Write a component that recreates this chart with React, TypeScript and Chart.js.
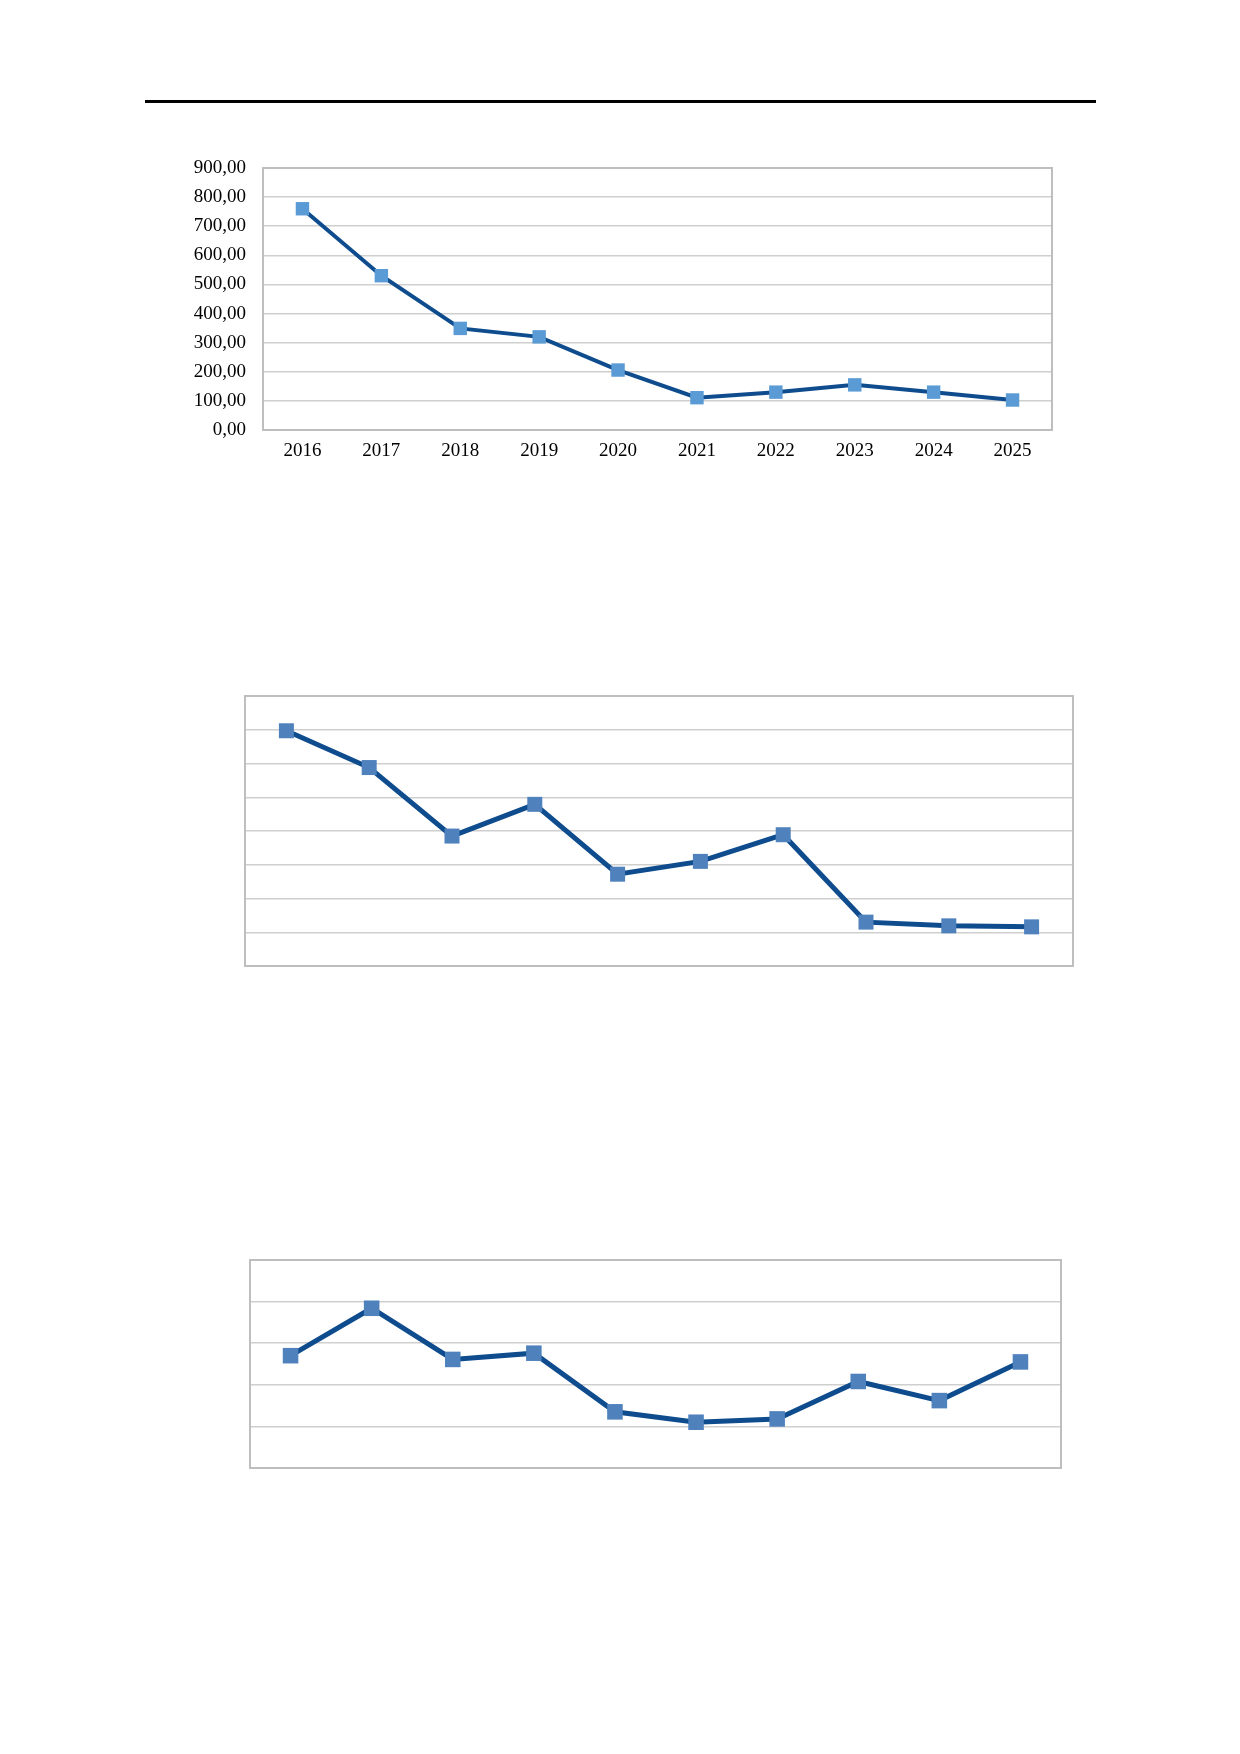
import React, { useEffect, useRef } from 'react';
import { Chart, registerables } from 'chart.js';

Chart.register(...registerables);

const years = ['2016', '2017', '2018', '2019', '2020', '2021', '2022', '2023', '2024', '2025'];

// top chart, read against the 0..900 axis
const firstValues = [760, 530, 349, 320, 206, 111, 130, 155, 130, 103];
// middle and bottom charts have no tick labels, values are in gridline units
const secondValues = [6.97, 5.88, 3.85, 4.79, 2.72, 3.1, 3.89, 1.3, 1.19, 1.16];
const thirdValues = [2.7, 3.84, 2.61, 2.76, 1.35, 1.1, 1.18, 2.08, 1.62, 2.55];

const LINE_COLOR = '#0E4C8E';
const SERIF = "'Liberation Serif', 'Times New Roman', serif";

const framePlugin = {
    id: 'plotFrame',
    beforeDatasetsDraw(chart: any) {
        const { ctx, chartArea } = chart;
        ctx.save();
        ctx.strokeStyle = '#BEBEBE';
        ctx.lineWidth = 2;
        ctx.strokeRect(chartArea.left, chartArea.top, chartArea.right - chartArea.left, chartArea.bottom - chartArea.top);
        ctx.restore();
    },
};

interface LineBoxProps {
    values: number[];
    yMax: number;
    showTicks: boolean;
    markerColor: string;
    markerRadius: number;
    lineWidth: number;
    box: { left: number; top: number; width: number; height: number };
    padding: { top: number; right: number; bottom: number; left: number };
    yAxisWidth: number;
    xAxisHeight: number;
}

function LineBox({ values, yMax, showTicks, markerColor, markerRadius, lineWidth, box, padding, yAxisWidth, xAxisHeight }: LineBoxProps) {
    const chartRef = useRef<HTMLCanvasElement | null>(null);
    const chartInstance = useRef<Chart | null>(null);

    useEffect(() => {
        if (!chartRef.current) return;
        if (chartInstance.current) {
            chartInstance.current.destroy();
        }
        const ctx = chartRef.current.getContext('2d');
        if (!ctx) return;

        chartInstance.current = new Chart(ctx, {
            type: 'line',
            data: {
                labels: years,
                datasets: [
                    {
                        data: values,
                        borderColor: LINE_COLOR,
                        borderWidth: lineWidth,
                        backgroundColor: markerColor,
                        pointStyle: 'rect',
                        pointRadius: markerRadius,
                        pointBorderWidth: 0,
                        pointBackgroundColor: markerColor,
                        tension: 0,
                        fill: false,
                        clip: false,
                    },
                ],
            },
            options: {
                animation: false,
                responsive: true,
                maintainAspectRatio: false,
                layout: { padding, autoPadding: false },
                plugins: {
                    legend: { display: false },
                    tooltip: { enabled: false },
                },
                scales: {
                    x: {
                        offset: true,
                        grid: { display: false, drawTicks: false },
                        border: { display: false },
                        ticks: {
                            display: showTicks,
                            padding: 10,
                            color: '#000',
                            font: { family: SERIF, size: 19 },
                        },
                        afterFit: (scale: any) => {
                            scale.height = xAxisHeight;
                        },
                    },
                    y: {
                        min: 0,
                        max: yMax,
                        grid: { color: '#CFCFCF', lineWidth: 1.5, drawTicks: false },
                        border: { display: false },
                        ticks: {
                            display: showTicks,
                            stepSize: yMax > 100 ? 100 : 1,
                            padding: 17,
                            color: '#000',
                            font: { family: SERIF, size: 19 },
                            callback: (v: any) => Number(v).toFixed(2).replace('.', ','),
                        },
                        afterFit: (scale: any) => {
                            scale.width = yAxisWidth;
                            // labels may overhang the plot, the layout padding already leaves room
                            scale.paddingTop = 0;
                            scale.paddingBottom = 0;
                        },
                    },
                },
            },
            plugins: [framePlugin],
        });

        return () => {
            if (chartInstance.current) {
                chartInstance.current.destroy();
                chartInstance.current = null;
            }
        };
    }, []);

    return (
        <div style={{ position: 'absolute', left: box.left, top: box.top, width: box.width, height: box.height }}>
            <canvas ref={chartRef} />
        </div>
    );
}

export default function App() {
    return (
        <div style={{ position: 'absolute', left: 0, top: 0, width: 1240, height: 1754, background: '#fff' }}>
            <div style={{ position: 'absolute', left: 145, top: 100, width: 951, height: 3, background: '#000' }} />
            <LineBox
                values={firstValues}
                yMax={900}
                showTicks={true}
                markerColor="#5B9BD5"
                markerRadius={9.5}
                lineWidth={4}
                box={{ left: 150, top: 150, width: 910, height: 320 }}
                padding={{ top: 18, right: 8, bottom: 0, left: 0 }}
                yAxisWidth={113}
                xAxisHeight={40}
            />
            <LineBox
                values={secondValues}
                yMax={8}
                showTicks={false}
                markerColor="#4F81BD"
                markerRadius={10.6}
                lineWidth={5}
                box={{ left: 243, top: 694, width: 832, height: 274 }}
                padding={{ top: 2, right: 2, bottom: 2, left: 2 }}
                yAxisWidth={0}
                xAxisHeight={0}
            />
            <LineBox
                values={thirdValues}
                yMax={5}
                showTicks={false}
                markerColor="#4F81BD"
                markerRadius={11}
                lineWidth={5}
                box={{ left: 248, top: 1258, width: 815, height: 212 }}
                padding={{ top: 2, right: 2, bottom: 2, left: 2 }}
                yAxisWidth={0}
                xAxisHeight={0}
            />
        </div>
    );
}
